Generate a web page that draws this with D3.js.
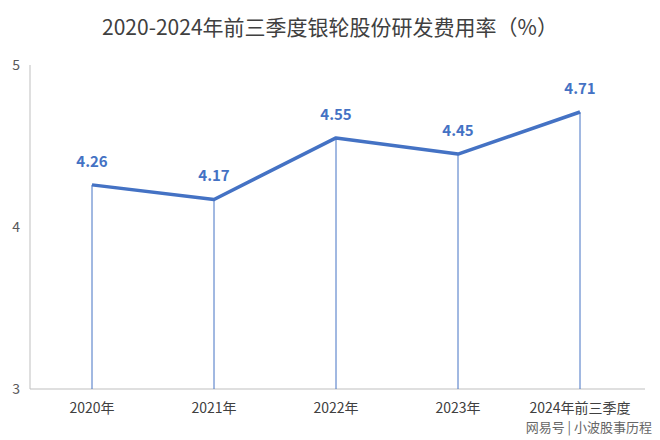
<!DOCTYPE html>
<html><head><meta charset="utf-8">
<script src="https://cdn.jsdelivr.net/npm/d3@7"></script>
<style>body{margin:0;background:#fff}svg{font-family:"Noto Sans CJK SC","Noto Sans",sans-serif}</style>
</head><body><svg id="c" width="660" height="440"></svg>
<script>
const categories=['2020年','2021年','2022年','2023年','2024年前三季度'];
const values=[4.26,4.17,4.55,4.45,4.71];
const yTicks=[3,4,5];

const svg=d3.select('#c');
const x=d3.scalePoint().domain(categories).range([92,580]);
const y=d3.scaleLinear().domain([3,5]).range([389,65]);
const blue='#4472c4';

svg.append('text').attr('x',330).attr('y',35).attr('text-anchor','middle')
  .attr('font-size',21).attr('fill','#404040').text('2020-2024年前三季度银轮股份研发费用率（%）');

// axes
svg.append('line').attr('x1',30).attr('x2',30).attr('y1',y(5)).attr('y2',y(3)).attr('stroke','#bfbfbf');
svg.append('line').attr('x1',30).attr('x2',645).attr('y1',y(3)).attr('y2',y(3)).attr('stroke','#bfbfbf');
svg.selectAll('.yt').data(yTicks).join('text').attr('x',20).attr('y',d=>y(d)+5)
  .attr('text-anchor','end').attr('font-size',14).attr('fill','#595959').text(d=>d);
svg.selectAll('.xt').data(categories).join('text').attr('x',d=>x(d)).attr('y',413)
  .attr('text-anchor','middle').attr('font-size',14).attr('fill','#404040').text(d=>d);

// drop lines
svg.selectAll('.drop').data(values).join('line')
  .attr('x1',(d,i)=>x(categories[i])).attr('x2',(d,i)=>x(categories[i]))
  .attr('y1',d=>y(d)).attr('y2',y(3)).attr('stroke',blue).attr('stroke-width',1);

svg.append('path').datum(values)
  .attr('d',d3.line().x((d,i)=>x(categories[i])).y(d=>y(d)))
  .attr('fill','none').attr('stroke',blue).attr('stroke-width',3.5).attr('stroke-linejoin','round');

svg.selectAll('.lbl').data(values).join('text')
  .attr('x',(d,i)=>x(categories[i])).attr('y',d=>y(d)-18)
  .attr('text-anchor','middle').attr('font-size',15).attr('font-weight','bold').attr('fill',blue)
  .text(d=>d.toFixed(2));

svg.append('text').attr('x',652).attr('y',432).attr('text-anchor','end')
  .attr('font-size',13).attr('fill','#666').text('网易号 | 小波股事历程');
</script></body></html>
